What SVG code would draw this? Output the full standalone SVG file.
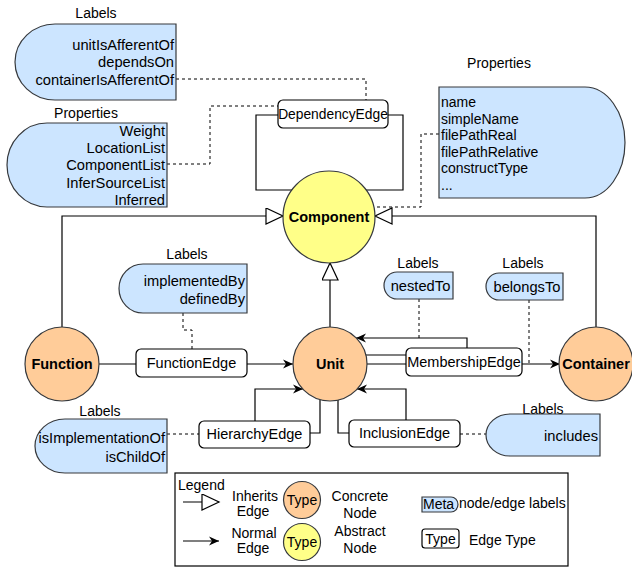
<svg xmlns="http://www.w3.org/2000/svg" width="632" height="568" viewBox="0 0 632 568">
<style>
text{font-family:"Liberation Sans",Arial,sans-serif;font-size:14px;fill:#000}
.c{font-size:14.7px}
.e{font-size:14.5px}
.b{font-weight:bold;font-size:14.5px}
.r{text-anchor:end}
.m{text-anchor:middle}
.meta{fill:#cce5ff;stroke:#36393d;stroke-width:1.2}
.et{fill:#fff;stroke:#000;stroke-width:1.2}
.conc{fill:#ffcc99;stroke:#36393d;stroke-width:1.2}
.abs{fill:#ffff88;stroke:#36393d;stroke-width:1.2}
.ln{fill:none;stroke:#000;stroke-width:1.2}
.dash{fill:none;stroke:#000;stroke-width:1;stroke-dasharray:3 3}
</style>
<defs>
<marker id="inh" markerWidth="20" markerHeight="18" refX="18" refY="8.5" orient="auto" markerUnits="userSpaceOnUse">
<path d="M1,0.5 L18,8.5 L1,16.5 Z" fill="#fff" stroke="#000" stroke-width="1.2"/>
</marker>
<marker id="arr" markerWidth="12" markerHeight="10" refX="10" refY="5" orient="auto" markerUnits="userSpaceOnUse">
<path d="M0,0.5 L10,5 L0,9.5 L3,5 Z" fill="#000"/>
</marker>
</defs>

<g id="connectors">
<path class="ln" d="M62,327 V216 H283" marker-end="url(#inh)"/>
<path class="ln" d="M596,327 V216 H375" marker-end="url(#inh)"/>
<path class="ln" d="M330,327 V263" marker-end="url(#inh)"/>
<path class="ln" d="M278,115 H256 V190 H293"/>
<path class="ln" d="M388,115 H403 V190 H365"/>
<path class="ln" d="M99,364 H136"/>
<path class="ln" d="M247,364 H293" marker-end="url(#arr)"/>
<path class="ln" d="M365,355 H406"/>
<path class="ln" d="M367,364 H406"/>
<path class="ln" d="M467,348 V338 H356" marker-end="url(#arr)"/>
<path class="ln" d="M522,364 H560" marker-end="url(#arr)"/>
<path class="ln" d="M255,421 V389 H303" marker-end="url(#arr)"/>
<path class="ln" d="M310,433 H320 V400"/>
<path class="ln" d="M349,433 H338 V400"/>
<path class="ln" d="M406,420 V389 H357" marker-end="url(#arr)"/>
<path class="dash" d="M176,79 H366 V100"/>
<path class="dash" d="M167,164 H210 V106 H278"/>
<path class="dash" d="M439,134 H421 V207 H374"/>
<path class="dash" d="M183,313 V330 H192 V349"/>
<path class="dash" d="M419,299 V338"/>
<path class="dash" d="M529,300 V364"/>
<path class="dash" d="M167,434 H199"/>
<path class="dash" d="M460,434 H486"/>
</g>

<g id="component">
<circle class="abs" cx="329" cy="217" r="46"/>
<text class="b m" x="329" y="222">Component</text>
</g>
<g id="unit">
<circle class="conc" cx="330" cy="364" r="37"/>
<text class="b m" x="330" y="369">Unit</text>
</g>
<g id="function">
<circle class="conc" cx="62" cy="364" r="37"/>
<text class="b m" x="62" y="369">Function</text>
</g>
<g id="container">
<circle class="conc" cx="596" cy="364" r="37"/>
<text class="b m" x="596" y="369">Container</text>
</g>

<g id="dependencyEdge">
<rect class="et" x="278" y="100" width="110" height="28" rx="5"/>
<text class="m" x="333" y="119" style="font-size:13.8px">DependencyEdge</text>
</g>
<g id="functionEdge">
<rect class="et" x="136" y="349" width="111" height="28" rx="5"/>
<text class="m e" x="191.5" y="368">FunctionEdge</text>
</g>
<g id="membershipEdge">
<rect class="et" x="406" y="348" width="116" height="28" rx="5"/>
<text class="m e" x="464" y="367">MembershipEdge</text>
</g>
<g id="hierarchyEdge">
<rect class="et" x="199" y="421" width="111" height="27" rx="5"/>
<text class="m e" x="254.5" y="439">HierarchyEdge</text>
</g>
<g id="inclusionEdge">
<rect class="et" x="349" y="420" width="111" height="27" rx="5"/>
<text class="m e" x="404.5" y="438">InclusionEdge</text>
</g>

<g id="depLabels">
<text class="m" x="96" y="18">Labels</text>
<path class="meta" d="M176,24 V100 H55 A40,38 0 0 1 55,24 Z"/>
<text class="r c" x="174" y="50">unitIsAfferentOf</text>
<text class="r c" x="174" y="67">dependsOn</text>
<text class="r c" x="174" y="85">containerIsAfferentOf</text>
</g>
<g id="depProperties">
<text class="m" x="86" y="118">Properties</text>
<path class="meta" d="M167,123 V207 H47 A40,42 0 0 1 47,123 Z"/>
<text class="r c" x="165" y="136">Weight</text>
<text class="r c" x="165" y="153">LocationList</text>
<text class="r c" x="165" y="170">ComponentList</text>
<text class="r c" x="165" y="188">InferSourceList</text>
<text class="r c" x="165" y="205">Inferred</text>
</g>
<g id="compProperties">
<text class="m" x="499" y="68">Properties</text>
<path class="meta" d="M439,87 H585 A40,55.5 0 0 1 585,198 H439 Z"/>
<text x="441" y="107">name</text>
<text x="441" y="124">simpleName</text>
<text x="441" y="140">filePathReal</text>
<text x="441" y="157">filePathRelative</text>
<text x="441" y="173">constructType</text>
<text x="441" y="190">...</text>
</g>
<g id="funcLabels">
<text class="m" x="187" y="259">Labels</text>
<path class="meta" d="M247,264 V313 H143 A24,24.5 0 0 1 143,264 Z"/>
<text class="r c" x="245" y="286">implementedBy</text>
<text class="r c" x="245" y="304">definedBy</text>
</g>
<g id="nestedLabels">
<text class="m" x="418" y="268">Labels</text>
<path class="meta" d="M453,272 V299 H397 A13,13.5 0 0 1 397,272 Z"/>
<text class="m c" x="420.5" y="291">nestedTo</text>
</g>
<g id="belongsLabels">
<text class="m" x="523" y="268">Labels</text>
<path class="meta" d="M563,273 V300 H499 A13,13.5 0 0 1 499,273 Z"/>
<text class="m c" x="527" y="292">belongsTo</text>
</g>
<g id="hierLabels">
<text class="m" x="100" y="416">Labels</text>
<path class="meta" d="M167,419 V473 H65 A30,27 0 0 1 65,419 Z"/>
<text class="r c" x="165" y="443">isImplementationOf</text>
<text class="r c" x="165" y="462">isChildOf</text>
</g>
<g id="inclLabels">
<text class="m" x="543" y="414">Labels</text>
<path class="meta" d="M600,414 V456 H510 A24,21 0 0 1 510,414 Z"/>
<text class="r c" x="598" y="441">includes</text>
</g>

<g id="legend">
<rect x="175" y="473" width="393" height="93" fill="#fff" stroke="#000" stroke-width="1.2"/>
<text x="178" y="490">Legend</text>
<path class="ln" d="M183,502 H219" marker-end="url(#inh)"/>
<text class="m" x="255" y="501">Inherits</text>
<text class="m" x="253" y="516">Edge</text>
<circle class="conc" cx="302" cy="500" r="18.5"/>
<text class="m" x="302" y="505">Type</text>
<text class="m" x="360" y="501">Concrete</text>
<text class="m" x="360" y="518">Node</text>
<path class="ln" d="M183,541 H219" marker-end="url(#arr)"/>
<text class="m" x="254" y="538">Normal</text>
<text class="m" x="253" y="553">Edge</text>
<circle class="abs" cx="302" cy="542" r="18.5"/>
<text class="m" x="302" y="547">Type</text>
<text class="m" x="360" y="536">Abstract</text>
<text class="m" x="360" y="553">Node</text>
<path class="meta" d="M422,497 H451 A7,7.5 0 0 1 451,512 H422 Z"/>
<text x="423" y="509">Meta</text>
<text x="459" y="508">node/edge labels</text>
<rect class="et" x="422" y="529" width="37" height="19" rx="3"/>
<text class="m" x="440.5" y="544">Type</text>
<text x="469" y="545">Edge Type</text>
</g>
</svg>
